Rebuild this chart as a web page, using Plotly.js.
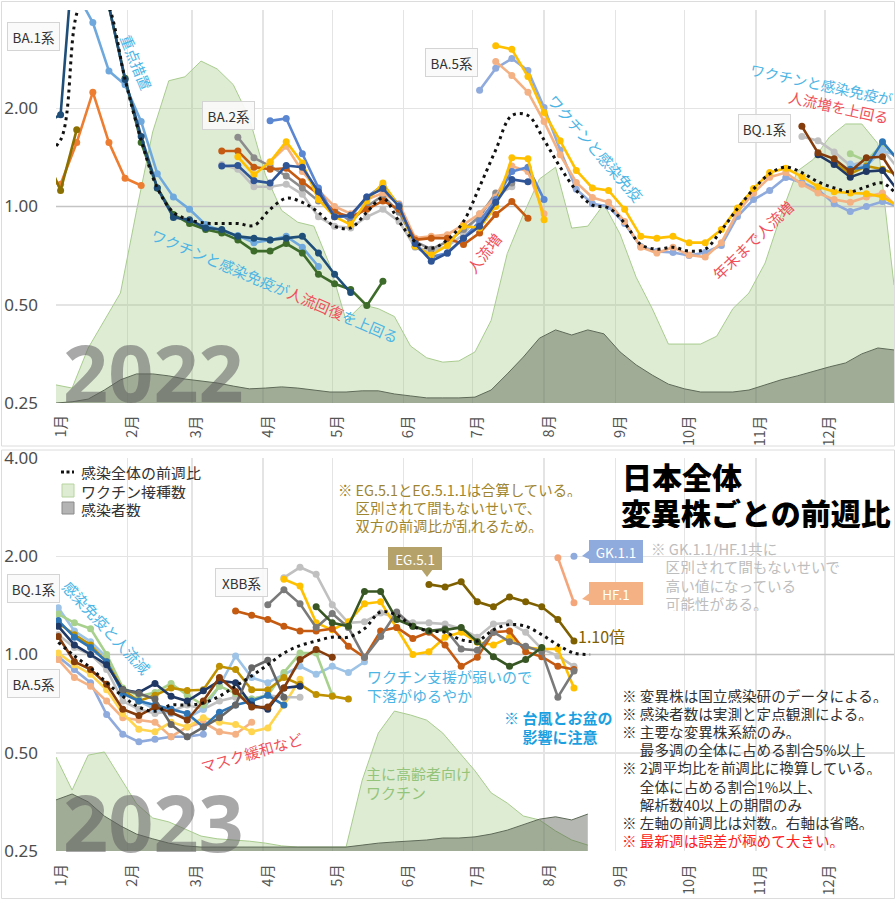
<!DOCTYPE html>
<html><head><meta charset="utf-8">
<script src="https://cdn.plot.ly/plotly-3.0.1.min.js"></script>
<style>html,body{margin:0;padding:0;background:#fff}#chart{width:896px;height:900px}</style>
</head><body><div id="chart"></div>
<script>
const FONT = '"Noto Sans CJK JP", "Noto Sans", sans-serif';
const monthLabels = ['1月','2月','3月','4月','5月','6月','7月','8月','9月','10月','11月','12月'];
const yTickVals = [0.25, 0.5, 1, 2, 4];
const yTickText = ['0.25','0.50','1.00','2.00','4.00'];
const legendLabels = ['感染全体の前週比','ワクチン接種数','感染者数'];

// weekly bases
const areaBase2022 = '2022-01-01', areaBase2023 = '2023-01-01';
const lineBase2022 = '2022-01-03', lineBase2023 = '2023-01-02';

// areas (relative scale, right axis omitted)
const vaccine2022 = [4.6,3.8,14,21,28,49,69,82,83,87,85,81,72.5,58,49,46,45,35,21,25,24,22,14.5,11.5,10.4,10.7,13,21,38,48,57,60,44.5,45,50.6,43,32,24,15,15,15,17,24,28,35.6,48,59,62,67.7,71,71,66,30];
const cases2022 = [0,0.3,1,3.3,5.9,7.4,7.4,6.9,6.1,5.6,5.1,4.3,3.6,3.8,4.1,3.8,3.3,2.8,2.8,3.1,3.1,2.3,1.8,1.3,1.3,1.3,1.5,3.3,7.4,11.7,16.5,18.6,17.3,18.6,17.6,13,9.7,7.1,4.8,3.6,2.8,2.8,2.8,3.3,4.6,5.9,6.9,8.1,9.2,10.2,12.5,14,13.5];
const vaccine2023 = [23.9,15.5,24.4,25.2,18.6,12,8.4,7.4,5.6,3.8,3.1,2.8,2.5,2,1.3,1,1,1,1,18,30,35.6,34.6,33.3,30,25.2,20.4,14.8,12.2,8.9,7.9,5.1,2.8,1.5];
const cases2023 = [13,14.5,12.5,8.9,6.4,4.3,3.1,2,1.3,1,1,1,1,1,1,1,1,1,1,1.5,2,2.3,2.5,2.8,3.3,3.3,3.6,4.3,5.3,6.6,8.1,8.7,7.9,9.4];

// overall week-over-week ratio
const overall2022 = [1.45,1.6,3.9,5.0,4.1,2.45,1.6,1.14,0.96,0.91,0.89,0.887,0.887,0.875,0.98,1.06,1.03,0.96,0.87,0.86,0.96,1.06,0.90,0.78,0.745,0.79,0.90,1.15,1.49,1.90,1.90,1.60,1.32,1.12,1.01,0.99,0.89,0.765,0.74,0.75,0.73,0.74,0.845,0.985,1.13,1.26,1.32,1.27,1.19,1.14,1.11,1.15,1.18,1.07];
const overall2022Start = -1;
const overall2023 = [1.09,0.99,0.91,0.82,0.745,0.69,0.67,0.70,0.70,0.71,0.745,0.80,0.86,0.93,1.01,1.065,1.10,1.13,1.13,1.20,1.35,1.32,1.22,1.18,1.17,1.11,1.10,1.19,1.235,1.22,1.15,1.07,1.01,1.0];
const overall2023Start = 0;

// 2022 variants
const v22_ba1_navy = [1.80,1.91,8,7,4.1,2.45,1.64,1.14,0.926,0.91,0.86,0.85,0.81,0.80,0.79,0.80,0.81,0.72,0.62,0.545];
const v22_ba1_green = [8,7,4.1,2.47,1.57,1.14,0.945,0.887,0.85,0.83,0.79,0.73,0.73,0.77,0.72,0.62,0.58,0.557,0.497,0.59];
const v22_ba1_sky = [4.5,3.66,2.6,2.36,1.82,1.26,1.07,0.98,0.88,0.84,0.815,0.775,0.79,0.81,0.75,0.655];
const v22_delta_orange = [1.2,1.17,1.57,2.24,1.57,1.22,1.16];
const v22_olive = [1.45,1.12,1.72];
const v22_ba2_darkorange = [1.48,1.48,1.32,1.30,1.31,1.19,1.09,0.96,0.93,0.98,1.04,0.98,0.79,0.80,0.80,0.765,0.83,0.945,1.036,0.92];
const v22_ba2_gray = [1.63,1.41,1.33,1.24,1.14,1.04,0.98,0.90,1.0,1.08,0.96,0.78,0.74,0.78,0.85,0.93,1.10,1.18];
const v22_ba2_lightgray = [1.345,1.30,1.15,1.15,1.17,1.09,0.93,0.87,0.86,0.93,0.98,0.90,0.75,0.73,0.755,0.82,0.95,1.08,1.15];
const v22_ba2_blue = [1.33,1.335,1.20,1.18,1.335,1.32,1.11,0.93,0.94,1.07,1.135,1.0,0.77,0.68,0.72,0.80,0.87,1.03,1.21,1.19];
const v22_ba2121_blue = [1.83,1.86,1.45,1.14,0.93,0.93,1.07,1.16,1.01,0.755,0.70,0.72,0.80,0.90,1.05,1.28,1.32,1.05];
const v22_ba2_yellow = [1.42,1.25,1.37,1.58,1.36,1.05,0.93,0.88,1.04,1.18,1.0,0.755,0.71,0.76,0.87,0.86,1.0,1.41,1.40,0.91];
const v22_ba2_salmon = [1.37,1.53,1.28,1.12,1.0,0.95,1.05,1.10,1.02,0.80,0.81,0.82,0.88,0.95,1.07,1.33,1.28,0.95];
const v22_ba5_cornflower = [2.27,2.65,2.84,2.61,2.01,1.49,1.13,1.02,1.0,0.887,0.754,0.728,0.723,0.708,0.723,0.76,0.932,1.05,1.12,1.227,1.185,1.127,1.02,0.965,1.0,1.036,1.0];
const v22_ba5_yellow = [3.11,3.03,2.5,1.94,1.59,1.29,1.14,1.12,0.98,0.81,0.80,0.81,0.775,0.775,0.85,0.99,1.135,1.27,1.31,1.235,1.15,1.11,1.10,1.095,1.07,1.0];
const v22_ba5_salmon = [2.78,2.52,2.24,1.82,1.44,1.185,1.065,1.03,0.90,0.75,0.72,0.75,0.71,0.70,0.775,0.96,1.10,1.23,1.27,1.17,1.10,1.05,1.03,1.07,1.10,0.99];
const v22_bq_brown = [1.76,1.46,1.40,1.28,1.41,1.42,1.19];
const v22_bq_lightgray = [1.64,1.59,1.47,1.335,1.38,1.50,1.30];
const v22_bq_navy = [1.44,1.345,1.23,1.28,1.29,1.11];
const v22_bq_lightgreen = [1.45,1.38,1.55,1.40];
const v22_bq_lightblue = [1.35,1.33,1.49,1.42];
const v22_bq_blue = [1.30,1.32,1.58,1.38];
const v22_bq_gold = [1.36,1.26,1.33,1.30,1.25];

// 2023 variants
const v23_brown = [1.135,0.95,0.90,0.81,0.68,0.65,0.69,0.665,0.63,0.72,0.85,0.77,0.69,0.69,0.79,0.965,1.035,0.98];
const v23_navy = [1.22,1.07,1.0,0.93,0.78,0.765,0.815,0.745,0.72,0.775,0.83,0.82,0.70,0.68,0.79,0.80];
const v23_darkgray = [0.78,0.76,0.73,0.61,0.56,0.60,0.64,0.70,0.91,0.96,0.74];
const v23_gray = [1.42,1.58,1.43,1.21,1.335,1.21,0.98,1.135,1.35,1.22,1.18,1.20,1.04,1.03,1.17,1.095,1.06,1.02,0.74,0.89];
const v23_lightgray = [1.72,1.85,1.76,1.42,1.25,1.26,1.34,1.30,1.25,1.25,1.24,1.20,1.13,1.24,1.25,1.17,1.04,0.99,0.92];
const v23_lightgray_early = [1.15,1.05,1.0,0.90,0.72,0.68,0.66,0.67,0.70,0.68,0.72,0.74,0.73,0.75,0.74,0.74];
const v23_yellow = [1.70,1.62,1.25,1.19,1.26,1.43,1.45,1.21,1.0,1.02,1.13,1.17,1.09,1.07,1.13,1.05,1.04,1.04,0.79];
const v23_ba5_yellow = [1.01,0.93,0.87,0.78,0.66,0.59,0.58,0.62,0.60,0.64,0.62,0.61,0.58,0.595,0.70,0.84];
const v23_darkorange = [1.36,1.32,1.28,1.22,1.18,1.18,1.2,1.06,0.98,1.18,1.21,1.12,1.17,1.07,0.92,0.98,1.17,1.18,1.02,0.985,0.92,0.90];
const v23_darkgreen = [1.40,1.25,1.22,1.56,1.56,1.28,1.22,1.18,1.19,1.21,1.095,0.985,0.92,0.965,1.05];
const v23_eg51_olive = [1.64,1.61,1.67,1.45,1.40,1.50,1.45,1.40,1.28,1.10];
const v23_lightgreen = [1.33,1.25,1.20,1.0,0.79,0.745,0.765,0.815,0.75,0.70,0.80,0.76,0.73,0.75,0.88,1.01,1.01,0.75];
const v23_lightblue = [1.39,1.18,1.095,0.98,0.765,0.72,0.68,0.66,0.64,0.68,0.80,0.99,0.85,0.82,0.87,0.92,0.87,0.92,0.88,0.95];
const v23_cornflower = [0.985,0.90,0.82,0.655,0.57,0.54,0.55,0.56,0.56,0.57];
const v23_salmon = [0.965,0.85,0.80,0.72,0.64,0.63,0.62,0.56,0.60,0.62,0.58,0.57,0.62];
const v23_gold = [1.25,1.15,1.07,0.95,0.78,0.72,0.75,0.79,0.776,0.78,0.92,0.90,0.78,0.78,0.85,0.81,0.754,0.745,0.73];
const v23_midblue = [1.27,1.13,1.05,0.95,0.76,0.72,0.70,0.68,0.66,0.60,0.665,0.70,0.72,0.75,0.70];
const v23_hf1 = [1.98,1.44];
const v23_gk11 = [2.0];

const series2022 = [
  [v22_ba1_sky,1,'#6fa8dc'],[v22_ba1_green,1,'#3d6b2a'],[v22_ba1_navy,-1,'#1f4e79'],
  [v22_delta_orange,-1,'#ed7d31'],[v22_olive,-1,'#8a7000'],
  [v22_ba2_lightgray,10,'#c0c0c0'],[v22_ba2_gray,11,'#8c8c8c'],[v22_ba2_salmon,13,'#f4b183'],
  [v22_ba2_darkorange,10,'#c55a11'],[v22_ba2121_blue,13,'#5b86d1'],[v22_ba2_yellow,11,'#ffc000'],
  [v22_ba2_blue,10,'#2f5597'],
  [v22_ba5_cornflower,26,'#8faadc'],[v22_ba5_salmon,27,'#f4b183'],[v22_ba5_yellow,27,'#ffc000'],
  [v22_bq_lightgray,46,'#c0c0c0'],[v22_bq_lightgreen,49,'#a9d18e'],[v22_bq_lightblue,49,'#9dc3e6'],
  [v22_bq_gold,48,'#bf9000'],[v22_bq_blue,49,'#2e75b6'],[v22_bq_navy,47,'#1f3864'],[v22_bq_brown,46,'#843c0c']
];
const series2023 = [
  [v23_cornflower,0,'#8faadc'],[v23_salmon,0,'#f4b183'],[v23_ba5_yellow,0,'#ffd54f'],
  [v23_lightgray_early,0,'#c0c0c0'],[v23_lightblue,0,'#9dc3e6'],[v23_lightgreen,0,'#a9d18e'],
  [v23_gold,0,'#bf9000'],[v23_midblue,0,'#2e75b6'],[v23_navy,0,'#1f3864'],[v23_darkgray,4,'#666666'],
  [v23_brown,0,'#843c0c'],
  [v23_lightgray,14,'#c0c0c0'],[v23_yellow,14,'#ffc000'],[v23_darkorange,11,'#c55a11'],
  [v23_gray,13,'#7a7a7a'],[v23_darkgreen,16,'#375623'],[v23_eg51_olive,23,'#7f6000'],
  [v23_hf1,31,'#f4a57a'],[v23_gk11,32,'#8faadc']
];

function weeks(base, k0, n){
  const d0 = Date.parse(base+'T00:00:00Z');
  return Array.from({length:n},(_,i)=>new Date(d0+(k0+i)*7*864e5).toISOString().slice(0,10));
}
const VAC_FILL='rgba(160,200,130,0.35)', CASE_FILL='rgba(70,78,62,0.40)';
const traces = [];
function areas(vac, cas, base, xa, ya){
  traces.push({x:weeks(base,0,vac.length), y:vac, xaxis:xa, yaxis:ya, type:'scatter', mode:'lines',
    fill:'tozeroy', fillcolor:VAC_FILL, line:{color:'#a9cc8f',width:1}, showlegend:false, hoverinfo:'skip'});
  traces.push({x:weeks(base,0,cas.length), y:cas, xaxis:xa, yaxis:ya, type:'scatter', mode:'lines',
    fill:'tozeroy', fillcolor:CASE_FILL, line:{color:'#5f6b58',width:1}, showlegend:false, hoverinfo:'skip'});
}
areas(vaccine2022, cases2022, areaBase2022, 'x', 'y');
areas(vaccine2023, cases2023, areaBase2023, 'x2', 'y2');

function baseline(year, xa, ya){
  traces.push({x:[year+'-01-01', year+'-12-31'], y:[1,1], xaxis:xa, yaxis:ya, mode:'lines',
    line:{color:'#c4c4c4',width:1.5}, showlegend:false, hoverinfo:'skip'});
}
baseline('2022','x','y3'); baseline('2023','x2','y4');

function variants(list, base, xa, ya){
  list.forEach(([vals,k0,color])=>{
    traces.push({x:weeks(base,k0,vals.length), y:vals, xaxis:xa, yaxis:ya, type:'scatter',
      mode:'lines+markers', line:{color:color,width:2.6}, marker:{color:color,size:7},
      showlegend:false, hoverinfo:'skip'});
  });
}
variants(series2022, lineBase2022, 'x', 'y3');
variants(series2023, lineBase2023, 'x2', 'y4');

function overall(vals,k0,base,xa,ya){
  traces.push({x:weeks(base,k0,vals.length), y:vals, xaxis:xa, yaxis:ya, type:'scatter', mode:'lines',
    line:{color:'#111',width:3,dash:'3px,4px',shape:'spline',smoothing:1}, showlegend:false, hoverinfo:'skip'});
}
overall(overall2022, overall2022Start, lineBase2022, 'x', 'y3');
overall(overall2023, overall2023Start, lineBase2023, 'x2', 'y4');

// layout helpers (pixel -> paper)
const PX = x => (x-56)/838, PY = y => (851-y)/841;
const BLUE='#4cb5e5', RED='#f0505a';
const anns = [];
function txt(x,y,text,size,color,extra){
  anns.push(Object.assign({xref:'paper',yref:'paper',x:PX(x),y:PY(y),text:text,showarrow:false,
    xanchor:'center',yanchor:'middle',font:{family:FONT,size:size,color:color}},extra||{}));
}
function box(x,y,text){
  txt(x,y,text,13.5,'#333',{bgcolor:'rgba(250,250,250,0.92)',bordercolor:'#d4d4d4',borderwidth:1,borderpad:3,width:45,height:21});
}
function callout(x,y,text,bg){
  txt(x,y,text,13.5,'#fff',{bgcolor:bg,bordercolor:bg,borderwidth:1,borderpad:2,width:48,height:17});
}
function lines(x,y0,step,arr,size,color,extra){
  arr.forEach((t,i)=>txt(x,y0+i*step,t,size,color,Object.assign({xanchor:'left',height:Math.floor(step)-2},extra||{})));
}
const sp = (c,t)=>'<span style="color:'+c+'">'+t+'</span>';

// month labels (rotated, reading upward) placed in paper space at each month start
function monthTicks(year, yPix){
  const y0 = Date.UTC(year,0,1), span = Date.UTC(year,11,31) - y0;
  monthLabels.forEach((m,i)=>{
    anns.push({xref:'paper', yref:'paper', x:(Date.UTC(year,i,1)-y0)/span, y:PY(yPix),
      text:m, showarrow:false, textangle:-90, xanchor:'center', yanchor:'top', xshift:3,
      font:{family:FONT,size:14.5,color:'#555'}});
  });
}
monthTicks(2022,413);
monthTicks(2023,862);

// top panel
box(33,37,'BA.1系'); box(228,116,'BA.2系'); box(451,62,'BA.5系'); box(764,128,'BQ.1系');
txt(137,62,'重点措置',14.5,BLUE,{textangle:68});
txt(275,285,sp(BLUE,'ワクチンと感染免疫が')+sp(RED,'人流回復')+sp(BLUE,'を上回る'),14.8,BLUE,{textangle:23});
txt(595,148,'ワクチンと感染免疫',15,BLUE,{textangle:49});
txt(483,253,'人流増',15,RED,{textangle:-52});
txt(819,93,sp(BLUE,'ワクチンと感染免疫が')+'<br>'+sp(RED,'人流増を上回る'),14.5,BLUE,{textangle:12,align:'right'});
txt(752,240,'年末まで人流増',15,RED,{textangle:-44});
txt(153,372,'2022',79,'',{font:{family:'"Noto Sans", "DejaVu Sans", sans-serif',size:79,color:'rgba(96,96,96,0.55)',weight:'bold'}});

// bottom panel
box(33,588,'BQ.1系'); box(33,683,'BA.5系'); box(241,582,'XBB系');
callout(415,558,'EG.5.1','#b5a26a');
callout(616,551,'GK.1.1','#8faadc');
callout(616,593,'HF.1','#f4b183');
lines(336,489,18,['※ EG.5.1とEG.5.1.1は合算している。','\u3000 区別されて間もないせいで、','\u3000 双方の前週比が乱れるため。'],14.4,'#9e8530');
lines(649,548,18.3,['※ GK.1.1/HF.1共に','\u3000区別されて間もないせいで','\u3000高い値になっている','\u3000可能性がある。'],14.6,'#bdbdbd');
txt(620,476,'日本全体',30,'',{xanchor:'left',height:32,font:{family:FONT,size:30,color:'#000',weight:900}});
txt(619,512,'変異株ごとの前週比',30,'',{xanchor:'left',height:32,font:{family:FONT,size:30,color:'#000',weight:900}});
txt(576,636,'1.10倍',16,'#7f6000',{xanchor:'left'});
txt(107,627,'感染免疫と人流減',15,BLUE,{textangle:47});
lines(365,676,18.5,['ワクチン支援が弱いので','下落がゆるやか'],15,BLUE);
txt(251,752,'マスク緩和など',15,RED,{textangle:-16});
lines(364,773,18.5,['主に高齢者向け','ワクチン'],15,'#94c47a');
lines(502,717,19,['※ 台風とお盆の','\u3000 影響に注意'],15,'',{font:{family:FONT,size:15,color:'#1aa0e0',weight:'bold'}});
const noteLines = ['※ 変異株は国立感染研のデータによる。','※ 感染者数は実測と定点観測による。','※ 主要な変異株系統のみ。',
  '\u3000 最多週の全体に占める割合5%以上','※ 2週平均比を前週比に換算している。','\u3000 全体に占める割合1%以上、',
  '\u3000 解析数40以上の期間のみ','※ 左軸の前週比は対数。右軸は省略。'];
lines(620,695,18.1,noteLines,14.6,'#333');
txt(620,695+8*18.1,'※ 最新週は誤差が極めて大きい。',14.6,'#ff2020',{xanchor:'left',height:16});
txt(153,821,'2023',79,'',{font:{family:'"Noto Sans", "DejaVu Sans", sans-serif',size:79,color:'rgba(96,96,96,0.55)',weight:'bold'}});

// manual legend text
lines(79,472,18.5,legendLabels,15,'#333');

// frames, legend symbols and callout pointers
function tri(pts,color){
  return {type:'path',xref:'paper',yref:'paper',fillcolor:color,line:{width:0},
    path:'M'+pts.map(p=>PX(p[0])+','+PY(p[1])).join(' L')+' Z'};
}
function rectPx(x0,y0,x1,y1,fill,lineColor){
  return {type:'rect',xref:'paper',yref:'paper',x0:PX(x0),x1:PX(x1),y0:PY(y1),y1:PY(y0),
    fillcolor:fill,line:{color:lineColor,width:1}};
}
const shapes = [
  rectPx(1.5,1.5,894.5,446,'rgba(0,0,0,0)','#dcdcdc'),
  rectPx(1.5,450,894.5,898.5,'rgba(0,0,0,0)','#dcdcdc'),
  {type:'line',xref:'paper',yref:'paper',x0:PX(61),x1:PX(74),y0:PY(472),y1:PY(472),line:{color:'#111',width:3,dash:'3px,2.5px'}},
  rectPx(62,484,74,497,VAC_FILL,'#b7d4a0'),
  rectPx(62,502,74,514,'#b4b4b4','#8a8a8a'),
  tri([[421,569],[433,569],[427,577]],'#b5a26a'),
  tri([[591,549],[591,560],[582,556]],'#8faadc'),
  tri([[591,592],[591,602],[582,599]],'#f4b183')
];

function xAxis(year, anchor){
  return {type:'date', anchor:anchor, range:[year+'-01-01', year+'-12-31'],
    tickvals:monthLabels.map((m,i)=>year+'-'+String(i+1).padStart(2,'0')+'-01'), ticktext:monthLabels,
    showticklabels:false, showgrid:true, gridcolor:'#e4e4e4', gridwidth:1.5, zeroline:false, showline:false,
    ticks:'', fixedrange:true};
}
function logAxis(over, anchor){
  return {type:'log', overlaying:over, anchor:anchor, side:'left', range:[Math.log10(0.25),Math.log10(4)],
    tickvals:yTickVals, ticktext:yTickText, showgrid:true, gridcolor:'#e4e4e4', gridwidth:1.5,
    zeroline:false, showline:false, ticks:'', ticklabelstandoff:17,
    tickfont:{family:'"Noto Sans", sans-serif',size:17,color:'#4d4d4d'}, fixedrange:true};
}
function hiddenAxis(domain, anchor){
  return {domain:domain, anchor:anchor, range:[0,100], visible:false, showgrid:false, zeroline:false, fixedrange:true};
}
const layout = {
  width:896, height:900, margin:{l:56,r:2,t:10,b:49}, paper_bgcolor:'#fff', plot_bgcolor:'rgba(0,0,0,0)',
  font:{family:FONT}, hovermode:false, showlegend:false,
  xaxis:xAxis('2022','y'), xaxis2:xAxis('2023','y2'),
  yaxis:hiddenAxis([PY(403),1],'x'), yaxis2:hiddenAxis([0,PY(458)],'x2'),
  yaxis3:logAxis('y','x'), yaxis4:logAxis('y2','x2'),
  annotations:anns, shapes:shapes
};
Plotly.newPlot('chart', traces, layout, {staticPlot:true, displayModeBar:false});
</script></body></html>
